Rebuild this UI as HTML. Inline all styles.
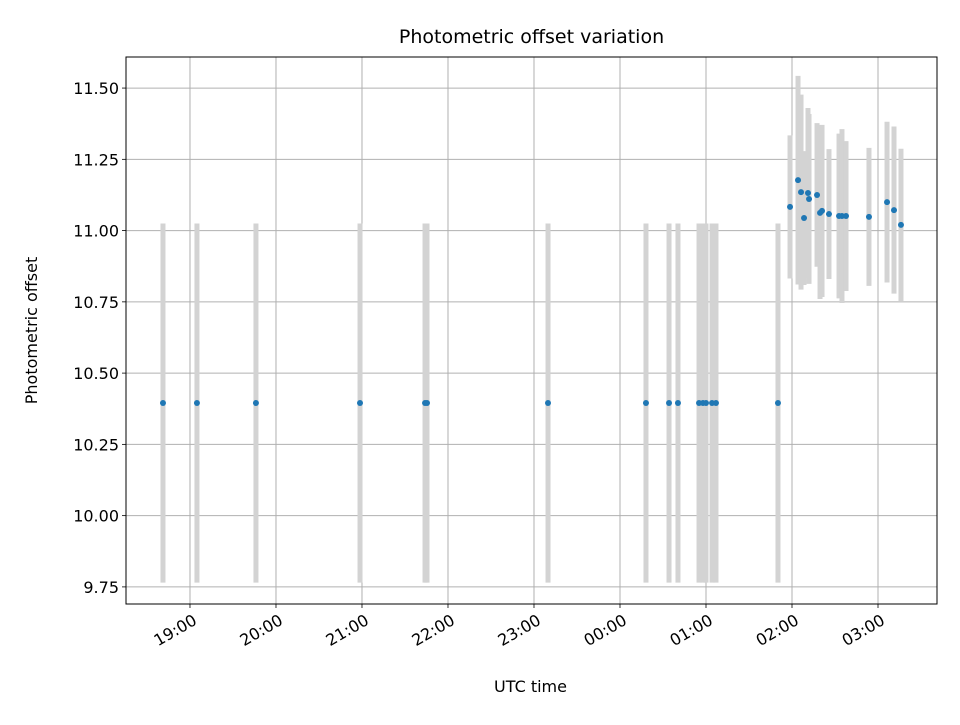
<!DOCTYPE html>
<html><head><meta charset="utf-8"><style>
body{margin:0;background:#fff;font-family:"Liberation Sans","DejaVu Sans",sans-serif}
svg text{font-family:"DejaVu Sans","Liberation Sans",sans-serif}
</style></head><body>
<svg id="c" width="960" height="720" xmlns="http://www.w3.org/2000/svg"></svg>
<script>
const times=[18.686,19.081,19.767,20.977,21.733,21.756,23.163,24.302,24.570,24.674,24.919,24.965,25.0,25.070,25.116,25.837,
25.977,26.07,26.105,26.14,26.186,26.198,26.291,26.326,26.349,26.43,26.547,26.581,26.628,26.895,27.105,27.186,27.267];
const offsets=[10.395,10.395,10.395,10.395,10.395,10.395,10.395,10.395,10.395,10.395,10.395,10.395,10.395,10.395,10.395,10.395,
11.083,11.177,11.135,11.044,11.132,11.111,11.125,11.062,11.069,11.058,11.051,11.051,11.051,11.048,11.100,11.072,11.020];
const errors=[0.63,0.63,0.63,0.63,0.63,0.63,0.63,0.63,0.63,0.63,0.63,0.63,0.63,0.63,0.63,0.63,
0.251,0.366,0.342,0.235,0.298,0.298,0.252,0.302,0.302,0.228,0.289,0.305,0.263,0.242,0.282,0.293,0.267];
const xTicks=[19,20,21,22,23,24,25,26,27];
const xTickLabels=["19:00","20:00","21:00","22:00","23:00","00:00","01:00","02:00","03:00"];
const yTicks=[9.75,10.0,10.25,10.5,10.75,11.0,11.25,11.5];
const yTickLabels=["9.75","10.00","10.25","10.50","10.75","11.00","11.25","11.50"];

const L=126,R=937,T=57,B=604,x0=18.256,x1=27.686,y0=9.690,y1=11.609;
const X=t=>L+(t-x0)/(x1-x0)*(R-L);
const Y=v=>B-(v-y0)/(y1-y0)*(B-T);
const svg=document.getElementById('c');const NS="http://www.w3.org/2000/svg";
function mk(tag,attrs,parent){const e=document.createElementNS(NS,tag);for(const k in attrs)e.setAttribute(k,attrs[k]);(parent||svg).appendChild(e);return e;}
const grid=mk('g',{});


xTicks.forEach((t,i)=>{
  mk('line',{x1:X(t),x2:X(t),y1:T,y2:B,stroke:'#b0b0b0','stroke-width':1},grid);
  mk('line',{x1:X(t),x2:X(t),y1:B,y2:B+4,stroke:'#000','stroke-width':0.8});
  const ax=X(t)+2, ay=B+9;
  const tx=mk('text',{x:ax,y:ay+12,'font-size':16,'text-anchor':'end',transform:`rotate(-30 ${ax} ${ay})`});
  
  
  tx.textContent=xTickLabels[i];
});
yTicks.forEach((v,i)=>{
  mk('line',{x1:L,x2:R,y1:Y(v),y2:Y(v),stroke:'#b0b0b0','stroke-width':1},grid);
  mk('line',{x1:L-4,x2:L,y1:Y(v),y2:Y(v),stroke:'#000','stroke-width':0.8});
  const tx=mk('text',{x:L-7,y:Y(v)+6,'font-size':16,'text-anchor':'end'});
  
  
  tx.textContent=yTickLabels[i];
});
times.forEach((t,i)=>{
  const e=mk('line',{x1:X(t),x2:X(t),y1:Y(offsets[i]+errors[i]),y2:Y(offsets[i]-errors[i]),stroke:'#d3d3d3','stroke-width':5});
  
  
});
times.forEach((t,i)=>{
  const p=mk('circle',{cx:X(t),cy:Y(offsets[i]),r:3,fill:'#1f77b4'});
  
  
});
const fr=mk('rect',{x:L,y:T,width:R-L,height:B-T,fill:'none',stroke:'#000','stroke-width':1});


const ti=mk('text',{x:(L+R)/2,y:43,'font-size':19,'text-anchor':'middle'});


ti.textContent='Photometric offset variation';
const xl=mk('text',{x:(L+R)/2-1,y:692,'font-size':16,'text-anchor':'middle'});


xl.textContent='UTC time';
const yl=mk('text',{x:37,y:(T+B)/2,'font-size':16,'text-anchor':'middle',transform:`rotate(-90 37 ${(T+B)/2})`});


yl.textContent='Photometric offset';
</script>
</body></html>
